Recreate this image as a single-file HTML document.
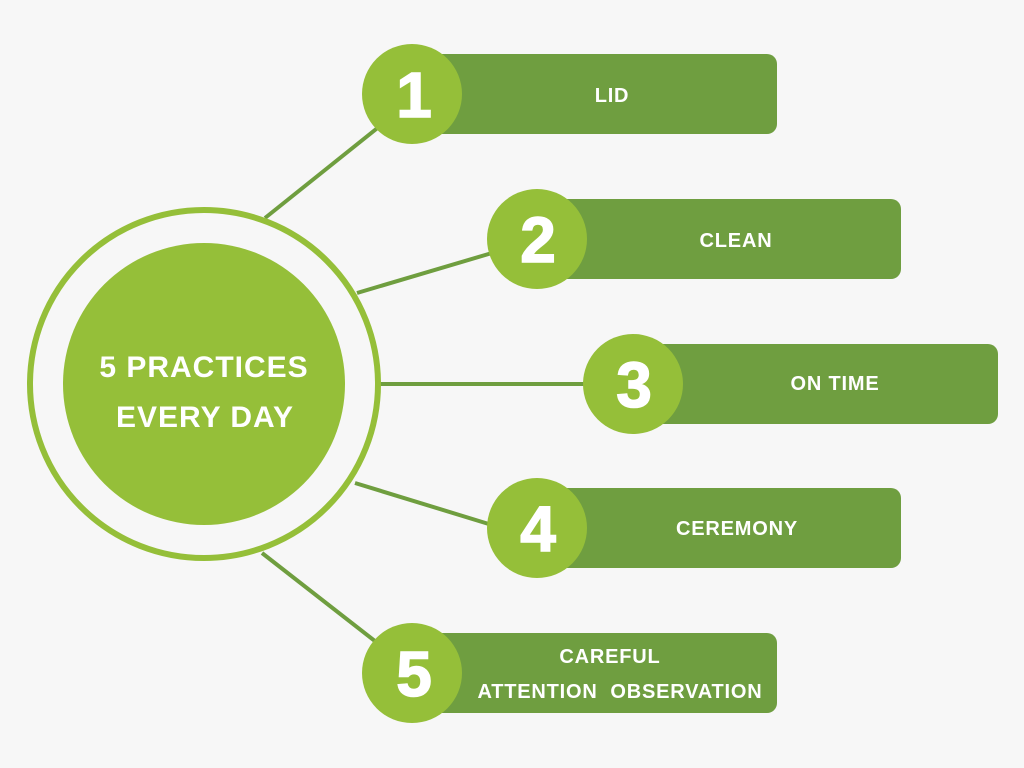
<!DOCTYPE html>
<html><head><meta charset="utf-8"><style>
html,body{margin:0;padding:0;background:#f7f7f7;}
svg{display:block;}
text{font-family:"Liberation Sans",sans-serif;font-weight:bold;fill:#fff;}
</style></head><body>
<svg width="1024" height="768" viewBox="0 0 1024 768">
<rect width="1024" height="768" fill="#f7f7f7"/>
<g stroke="#6f9e3f" stroke-width="4" fill="none">
<line x1="265" y1="218" x2="380" y2="126"/>
<line x1="357" y1="293" x2="492" y2="253"/>
<line x1="380" y1="384" x2="590" y2="384"/>
<line x1="355" y1="483" x2="492" y2="525"/>
<line x1="262" y1="553" x2="380" y2="645"/>
</g>
<circle cx="204" cy="384" r="174" fill="none" stroke="#95bf39" stroke-width="6"/>
<circle cx="204" cy="384" r="141" fill="#95bf39"/>
<text x="204" y="377" font-size="30" letter-spacing="1" text-anchor="middle">5 PRACTICES</text>
<text x="205" y="427" font-size="30" letter-spacing="1" text-anchor="middle">EVERY DAY</text>
<g fill="#6f9e40">
<rect x="430" y="54" width="347" height="80" rx="10"/>
<rect x="550" y="199" width="351" height="80" rx="10"/>
<rect x="645" y="344" width="353" height="80" rx="10"/>
<rect x="550" y="488" width="351" height="80" rx="10"/>
<rect x="430" y="633" width="347" height="80" rx="10"/>
</g>
<g fill="#95bf39">
<circle cx="412" cy="94" r="50"/>
<circle cx="537" cy="239" r="50"/>
<circle cx="633" cy="384" r="50"/>
<circle cx="537" cy="528" r="50"/>
<circle cx="412" cy="673" r="50"/>
</g>
<g font-size="64" text-anchor="middle" stroke="#fff" stroke-width="1.5">
<text x="414" y="117">1</text>
<text x="538" y="262">2</text>
<text x="634" y="407">3</text>
<text x="538" y="551">4</text>
<text x="414" y="696">5</text>
</g>
<g font-size="20" letter-spacing="0.8" text-anchor="middle">
<text x="612" y="102">LID</text>
<text x="736" y="247">CLEAN</text>
<text x="835" y="390">ON TIME</text>
<text x="737" y="535">CEREMONY</text>
<text x="610" y="663">CAREFUL</text>
<text x="620" y="698">ATTENTION&#160; OBSERVATION</text>
</g>
</svg>
</body></html>
